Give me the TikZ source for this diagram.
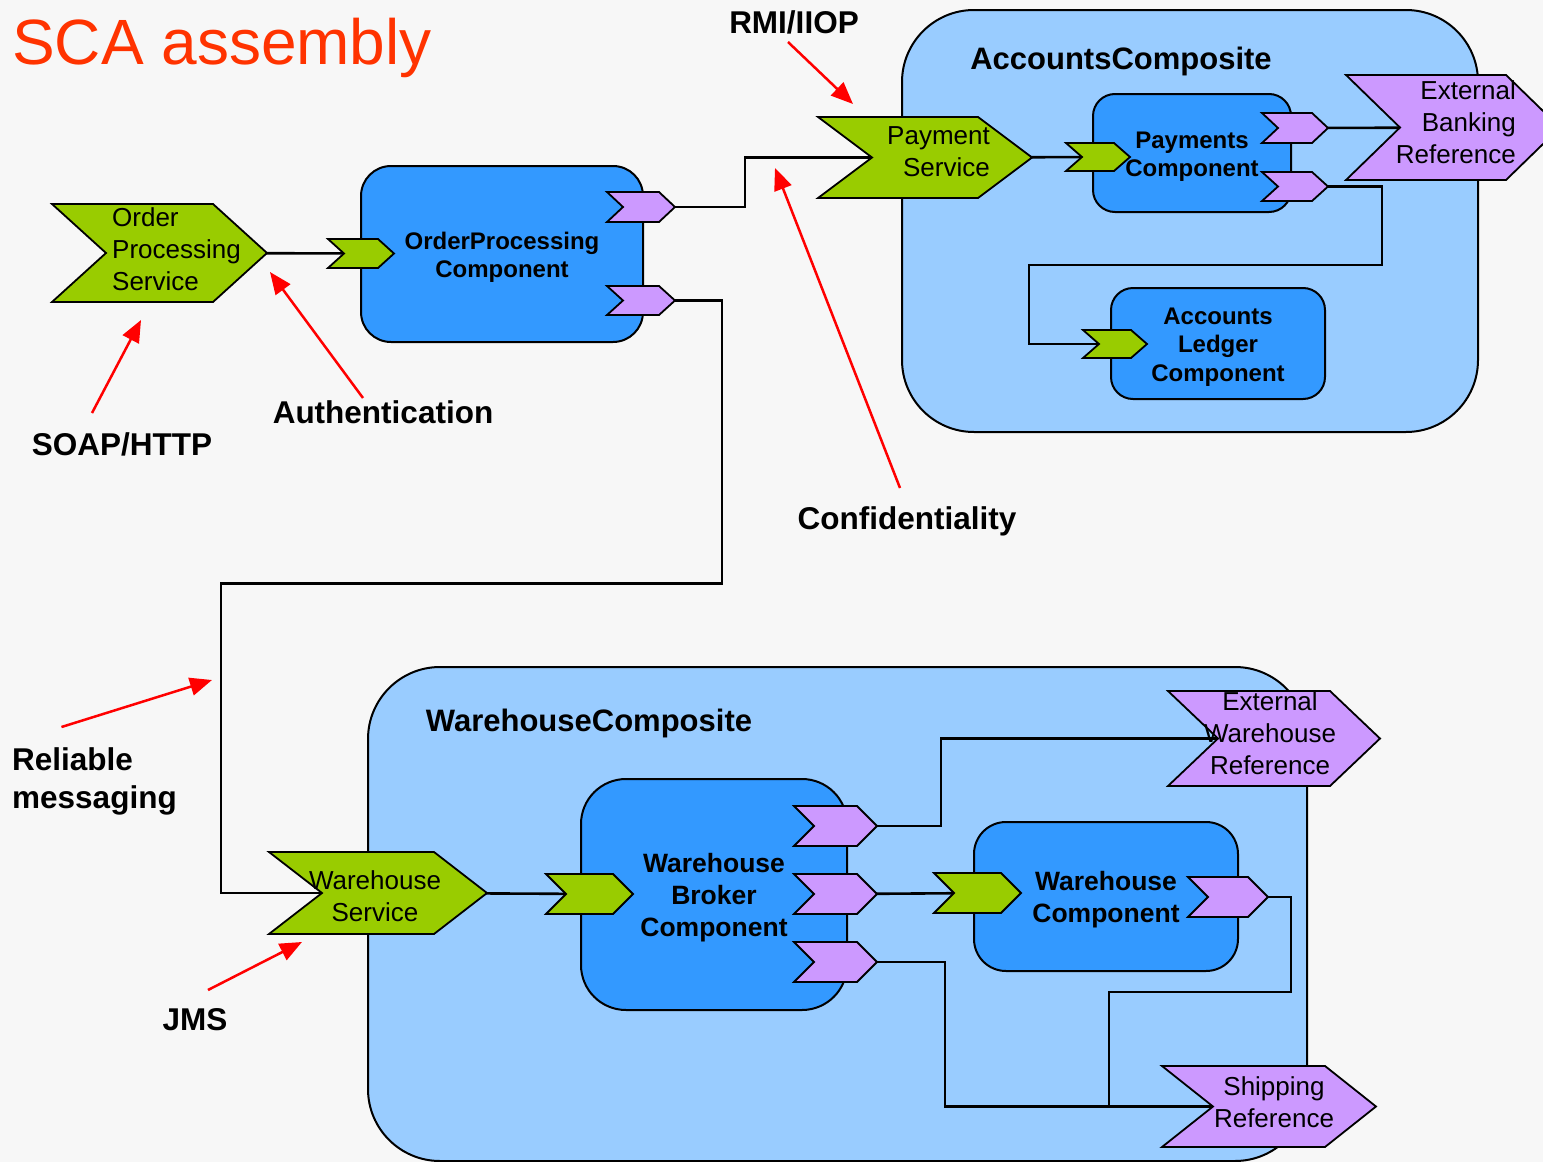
\documentclass[tikz,border=0pt]{standalone}
\usepackage{fontspec}
\setmainfont{Liberation Sans}
\usepackage{xcolor}
\usepackage{tikz}
\usetikzlibrary{arrows.meta}

\definecolor{scagreen}{RGB}{153,204,0}
\definecolor{scapurple}{RGB}{204,153,255}
\definecolor{scablue}{RGB}{51,153,255}
\definecolor{scalight}{RGB}{153,204,255}
\definecolor{scaorange}{RGB}{255,51,0}
\definecolor{scapaper}{RGB}{247,247,247}

\pgfdeclarelayer{boxes}
\pgfdeclarelayer{links}
\pgfsetlayers{boxes,links,main}

\tikzset{
    composite/.style={draw, line width=2pt, fill=scalight, rounded corners=72pt},
    comp/.style={draw, line width=2pt, fill=scablue},
    small text/.style={align=center, inner sep=0pt, font=\bfseries\fontsize{24}{28.5}\selectfont},
    big text/.style={align=center, inner sep=0pt, font=\bfseries\fontsize{26.5}{32}\selectfont},
    port line/.style={draw, line width=1.8pt},
    port text/.style={font=\fontsize{26}{32}\selectfont, inner sep=0pt},
    box title/.style={font=\bfseries\fontsize{31}{36}\selectfont, inner sep=0pt},
    note/.style={font=\bfseries\fontsize{31.5}{38}\selectfont, inner sep=0pt},
    wire/.style={line width=2.6pt},
    flag/.style={draw=red, line width=2.5pt, -{Triangle[length=22pt,width=18pt]}}
}

\newcommand{\scaport}[7]{%
    \filldraw[port line, fill=#7] ({#2},{#3}) -- ({#2+#5},{#3}) -- ({#2+#5+#6},{(#3+#4)/2})
        -- ({#2+#5},{#4}) -- ({#2},{#4}) -- ({#2+#6},{(#3+#4)/2}) -- cycle;
    \coordinate (#1) at ({#2+#6+#5/2},{(#3+#4)/2});
}

\begin{document}
\begin{tikzpicture}[x=1pt,y=-1pt]
            \useasboundingbox (0,0) rectangle (1543,1162);

            \begin{pgfonlayer}{boxes}
            \fill[scapaper] (0,0) rectangle (1543,1162);
            \node[composite, minimum width=576pt, minimum height=422pt] (accounts) at (1190,221) {};
            \node[composite, minimum width=939pt, minimum height=494pt] (warehouse) at (837.5,914) {};

            \node[comp, rounded corners=30pt, minimum width=282pt, minimum height=176pt] (opc) at (502,254) {};
            \node[comp, rounded corners=22pt, minimum width=198pt, minimum height=118pt] (payc) at (1192,153) {};
            \node[comp, rounded corners=22pt, minimum width=214pt, minimum height=111pt] (ledc) at (1218,343.5) {};
            \node[comp, rounded corners=45pt, minimum width=266pt, minimum height=231pt] (brkc) at (714,894.5) {};
            \node[comp, rounded corners=32pt, minimum width=264pt, minimum height=149pt] (whc) at (1106,896.5) {};
            \end{pgfonlayer}

            \node[font=\fontsize{64}{70}\selectfont, text=scaorange, anchor=base west, inner sep=0pt] (title) at (12,64) {SCA assembly};
            \node[box title, anchor=base] (accname) at (1121,69) {AccountsComposite};
            \node[box title, anchor=base] (whname) at (589,731) {WarehouseComposite};

            \scaport{opsvc}{52}{204}{302}{161}{54}{scagreen}
            \scaport{paysvc}{818}{117}{198}{160}{54}{scagreen}
            \scaport{whsvc}{269}{852}{934}{165}{53}{scagreen}
            \scaport{bankref}{1346}{75}{180}{160}{54}{scapurple}
            \scaport{whref}{1168}{691}{786}{162}{50}{scapurple}
            \scaport{shipref}{1162}{1066}{1147}{163}{51}{scapurple}

            \scaport{opin}{328}{239}{268}{50}{16}{scagreen}
            \scaport{opout1}{607}{192}{222}{52}{16}{scapurple}
            \scaport{opout2}{607}{286}{315}{52}{16}{scapurple}
            \scaport{payin}{1066}{143}{171}{48}{16}{scagreen}
            \scaport{payout1}{1262}{113}{143}{50}{16}{scapurple}
            \scaport{payout2}{1262}{172}{201}{50}{16}{scapurple}
            \scaport{ledin}{1083}{330}{358}{48}{16}{scagreen}
            \scaport{brkin}{546}{874}{914}{67}{20}{scagreen}
            \foreach \i/\t in {1/806,2/874,3/942}
                {\scaport{brkout\i}{794}{\t}{\t+40}{63}{20}{scapurple}}
            \scaport{whin}{934}{873}{913}{67}{20}{scagreen}
            \scaport{whout}{1188}{877}{917}{60}{20}{scapurple}

            \node[small text] (opcname) at ([yshift=-3.5pt]opc.center) {OrderProcessing\\Component};
            \node[small text] (paycname) at ([yshift=-3.5pt]payc.center) {Payments\\Component};
            \node[small text] (ledcname) at ([yshift=-3.5pt]ledc.center) {Accounts\\Ledger\\Component};
            \node[big text] (brkcname) at ([yshift=-3.5pt]brkc.center) {Warehouse\\Broker\\Component};
            \node[big text] (whcname) at ([yshift=-3.5pt]whc.center) {Warehouse\\Component};

            \node[port text, anchor=west, align=left] (opsvcname) at (112,249) {Order\\Processing\\Service};
            \node[port text, anchor=east, align=right] (paysvcname) at (990,152) {Payment\\Service};
            \node[port text, align=center] (whsvcname) at (375,896.5) {Warehouse\\Service};
            \node[port text, anchor=east, align=right] (bankrefname) at (1516,122) {External\\Banking\\Reference};
            \node[port text, align=center] (whrefname) at (1270,733) {External\\Warehouse\\Reference};
            \node[port text, align=center] (shiprefname) at (1274,1102.5) {Shipping\\Reference};

            \begin{pgfonlayer}{links}
            \draw[wire] (opsvc) -- (opin);
            \draw[wire] (opout1) -- ++(96,0) |- (paysvc);
            \draw[wire] (opout2) -- ++(73,0) -- ++(0,283) -- ++(-501,0) |- (whsvc);
            \draw[wire] (paysvc) -- (payin);
            \draw[wire] (payout1) -- (bankref);
            \draw[wire] (payout2) -- ++(79,0) -- ++(0,78.5) -- ++(-353,0) |- (ledin);
            \draw[wire] (whsvc) -- (brkin);
            \draw[wire] (brkout1) -- ++(95.5,0) |- (whref);
            \draw[wire] (brkout2) -- (whin);
            \draw[wire] (brkout3) -- ++(99.5,0) |- (shipref);
            \draw[wire] (whout) -- ++(53,0) -- ++(0,95) -- ++(-182,0) |- (shipref);
            \end{pgfonlayer}

            \node[note] (rmi) at (794,22) {RMI/IIOP};
            \node[note] (conf) at (907,521) {Confidentiality};
            \node[note] (soap) at (122,444) {SOAP/HTTP};
            \node[note] (auth) at (383,412) {Authentication};
            \node[note, anchor=west, align=left] (relmsg) at (12,781) {Reliable\\messaging};
            \node[note] (jms) at (195,1020) {JMS};

            \coordinate (rmitip) at (853,104);
            \coordinate (conftip) at (775,168);
            \coordinate (soaptip) at (141,320);
            \coordinate (authtip) at (270,272);
            \coordinate (reltip) at (212,680);
            \coordinate (jmstip) at (302,942);

            \draw[flag] ([shift={(-6,20)}]rmi.center) -- (rmitip);
            \draw[flag] ([shift={(-7,-33)}]conf.center) -- (conftip);
            \draw[flag] ([shift={(-30,-31)}]soap.center) -- (soaptip);
            \draw[flag] ([shift={(-20,-14)}]auth.center) -- (authtip);
            \draw[flag] ([shift={(-33,-54)}]relmsg.center) -- (reltip);
            \draw[flag] ([shift={(13,-30)}]jms.center) -- (jmstip);
\end{tikzpicture}
\end{document}
